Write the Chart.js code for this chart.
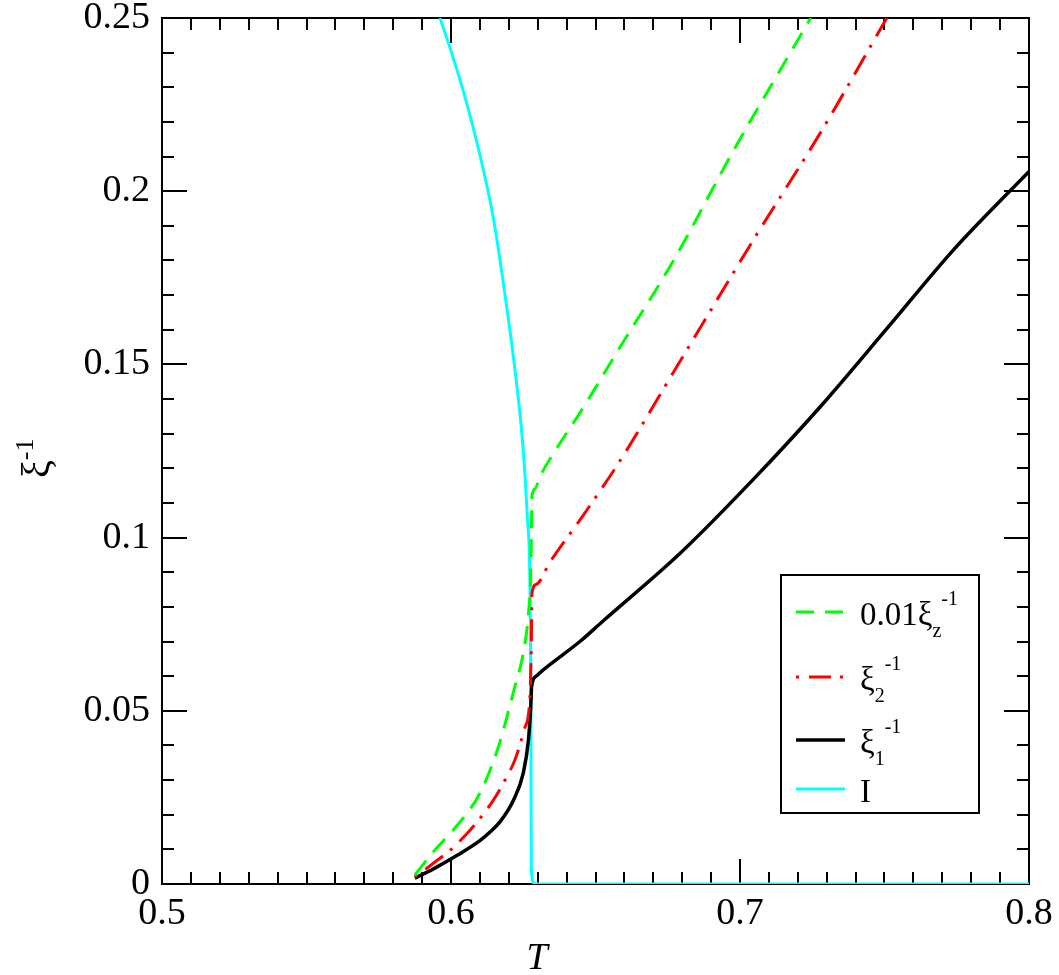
<!DOCTYPE html>
<html>
<head>
<meta charset="utf-8">
<script src="https://cdn.jsdelivr.net/npm/chart.js@4.4.0/dist/chart.umd.min.js"></script>
<style>
  html, body { margin: 0; padding: 0; background: #fff; }
  #wrap { width: 1059px; height: 975px; position: relative; }
</style>
</head>
<body>
<div id="wrap"><canvas id="myChart"></canvas></div>
<script>
// values: temperature T and inverse correlation lengths
const tZ  = [0.5875, 0.5939, 0.6020, 0.6100, 0.6164, 0.6221, 0.6250, 0.6268, 0.6276, 0.6278, 0.6280, 0.6290, 0.6308, 0.6366, 0.6446, 0.6585, 0.6770, 0.6976, 0.7245];
const xiZ = [0.0026, 0.0093, 0.0168, 0.0262, 0.0396, 0.0570, 0.0666, 0.0781, 0.0900, 0.1000, 0.1118, 0.1140, 0.1176, 0.1258, 0.1360, 0.1550, 0.1800, 0.2115, 0.2500];

const t2  = [0.5875, 0.5939, 0.6020, 0.6141, 0.6187, 0.6221, 0.6255, 0.6273, 0.6278, 0.6280, 0.6295, 0.6343, 0.6458, 0.6585, 0.6781, 0.7046, 0.7277, 0.7508];
const xi2 = [0.0021, 0.0060, 0.0115, 0.0235, 0.0300, 0.0358, 0.0450, 0.0540, 0.0700, 0.0839, 0.0865, 0.0930, 0.1065, 0.1222, 0.1493, 0.1859, 0.2167, 0.2500];

const t1  = [0.5875, 0.5938, 0.6020, 0.6100, 0.6135, 0.6170, 0.6216, 0.6250, 0.6268, 0.6276, 0.6279, 0.6295, 0.6316, 0.6446, 0.6527, 0.6792, 0.7046, 0.7277, 0.7508, 0.7738, 0.8000];
const xi1 = [0.0017, 0.0043, 0.0082, 0.0125, 0.0150, 0.0180, 0.0242, 0.0320, 0.0416, 0.0512, 0.0572, 0.0600, 0.0616, 0.0700, 0.0760, 0.0954, 0.1168, 0.1377, 0.1603, 0.1830, 0.2057];

const tI  = [0.5962, 0.6000, 0.6043, 0.6100, 0.6146, 0.6193, 0.6227, 0.6250, 0.6264, 0.6273, 0.6276, 0.6277, 0.6278, 0.6290, 0.8000];
const xiI = [0.2500, 0.2405, 0.2288, 0.2105, 0.1925, 0.1665, 0.1445, 0.1253, 0.1060, 0.0878, 0.0600, 0.0300, 0.0040, 0.0000, 0.0000];

// legend text pieces: 0 = normal, 1 = subscript, -1 = superscript
const legendText = [
  [['0.01ξ', 0], ['z', 1], ['-1', -1]],
  [['ξ', 0], ['2', 1], ['-1', -1]],
  [['ξ', 0], ['1', 1], ['-1', -1]],
  [['I', 0]]
];

const SERIF = '"Liberation Serif", "Times New Roman", serif';

function pts(xs, ys) {
  return xs.map((x, i) => ({ x: x, y: ys[i] }));
}

function fmt(v) {
  return String(Number(v.toFixed(3)));
}

function drawRich(ctx, parts, x, y, big, small, subDy, supDy) {
  parts.forEach(([txt, kind]) => {
    ctx.font = (kind === 0 ? big : small) + 'px ' + SERIF;
    const dy = kind === 1 ? subDy : (kind === -1 ? supDy : 0);
    ctx.fillText(txt, x, y + dy);
    x += ctx.measureText(txt).width;
  });
}

// frame with inward ticks on all four sides, titles and legend
const framePlugin = {
  id: 'frame',
  beforeDatasetsDraw(chart) {
    const ctx = chart.ctx;
    const a = chart.chartArea;
    const xs = chart.scales.x, ys = chart.scales.y;
    ctx.save();
    ctx.strokeStyle = '#000';
    ctx.lineWidth = 2;
    ctx.strokeRect(a.left, a.top, a.right - a.left, a.bottom - a.top);
    const major = 25, minor = 12;
    ctx.beginPath();
    for (let i = 0; i <= Math.round((xs.max - xs.min) / 0.01); i++) {
      const p = Math.round(xs.getPixelForValue(xs.min + i * 0.01));
      const len = (i % 10 === 0) ? major : minor;
      ctx.moveTo(p, a.bottom); ctx.lineTo(p, a.bottom - len);
      ctx.moveTo(p, a.top); ctx.lineTo(p, a.top + len);
    }
    for (let i = 0; i <= Math.round((ys.max - ys.min) / 0.01); i++) {
      const p = Math.round(ys.getPixelForValue(ys.min + i * 0.01));
      const len = (i % 5 === 0) ? major : minor;
      ctx.moveTo(a.left, p); ctx.lineTo(a.left + len, p);
      ctx.moveTo(a.right, p); ctx.lineTo(a.right - len, p);
    }
    ctx.stroke();
    ctx.restore();
  },
  afterDraw(chart) {
    const ctx = chart.ctx;
    ctx.save();
    ctx.fillStyle = '#000';
    ctx.textBaseline = 'alphabetic';

    // axis titles
    ctx.font = 'italic 38px ' + SERIF;
    ctx.textAlign = 'center';
    ctx.fillText('T', 537, 969);
    ctx.textAlign = 'left';
    ctx.save();
    ctx.translate(49, 478);
    ctx.rotate(-Math.PI / 2);
    drawRich(ctx, [['ξ', 0], ['-1', -1]], 0, 0, 40, 26, 0, -16);
    ctx.restore();

    // legend box
    const bx = 781, by = 575, bw = 198, bh = 238;
    ctx.fillStyle = '#fff';
    ctx.fillRect(bx, by, bw, bh);
    ctx.strokeStyle = '#000';
    ctx.lineWidth = 2;
    ctx.strokeRect(bx, by, bw, bh);
    const rows = [37, 102, 165, 214];
    chart.data.datasets.forEach((ds, i) => {
      const ly = by + rows[i];
      ctx.save();
      ctx.strokeStyle = ds.borderColor;
      ctx.lineWidth = ds.borderWidth;
      ctx.setLineDash(ds.borderDash || []);
      ctx.beginPath();
      ctx.moveTo(bx + 15, ly);
      ctx.lineTo(bx + 64, ly);
      ctx.stroke();
      ctx.restore();
      ctx.fillStyle = '#000';
      drawRich(ctx, legendText[i], bx + 79, ly + 13, 33, 20, 12, -20);
    });
    ctx.restore();
  }
};

const lineStyle = {
  pointRadius: 0,
  fill: false,
  cubicInterpolationMode: 'monotone'
};

new Chart('myChart', {
  type: 'line',
  data: {
    datasets: [
      Object.assign({ label: '0.01xi_z', data: pts(tZ, xiZ), borderColor: '#00ff00', borderWidth: 3, borderDash: [18, 11] }, lineStyle),
      Object.assign({ label: 'xi_2', data: pts(t2, xi2), borderColor: '#ff0000', borderWidth: 3, borderDash: [3, 10, 22, 9] }, lineStyle),
      Object.assign({ label: 'xi_1', data: pts(t1, xi1), borderColor: '#000000', borderWidth: 3.5 }, lineStyle),
      Object.assign({ label: 'I', data: pts(tI, xiI), borderColor: '#00ffff', borderWidth: 3 }, lineStyle)
    ]
  },
  options: {
    responsive: true,
    maintainAspectRatio: false,
    animation: false,
    layout: { padding: { top: 18, right: 30, left: 0, bottom: 0 }, autoPadding: false },
    plugins: { legend: { display: false }, tooltip: { enabled: false } },
    scales: {
      x: {
        type: 'linear',
        min: 0.5, max: 0.8,
        grid: { display: false, drawTicks: false },
        border: { display: false },
        ticks: { stepSize: 0.1, autoSkip: false, maxRotation: 0, padding: 7, color: '#000',
                 font: { family: SERIF, size: 38 }, callback: v => fmt(v) },
        afterFit: s => { s.height = 91; s.paddingLeft = 0; s.paddingRight = 0; }
      },
      y: {
        type: 'linear',
        min: 0, max: 0.25,
        grid: { display: false, drawTicks: false },
        border: { display: false },
        ticks: { stepSize: 0.05, autoSkip: false, padding: 12, color: '#000',
                 font: { family: SERIF, size: 38 }, callback: v => fmt(v) },
        afterFit: s => { s.width = 162; s.paddingTop = 0; s.paddingBottom = 0; }
      }
    }
  },
  plugins: [framePlugin]
});
</script>
</body>
</html>
